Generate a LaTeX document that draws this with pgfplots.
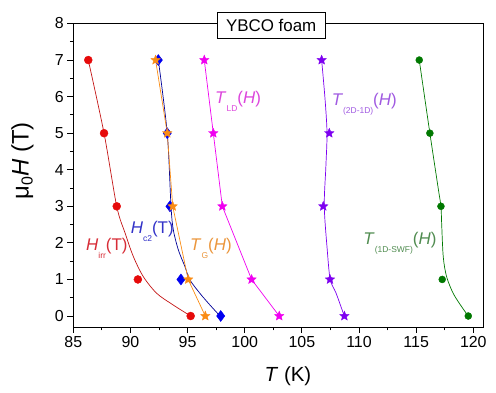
\documentclass[border=0pt]{standalone}
\usepackage{pgfplots}
\pgfplotsset{compat=1.18}
\usepackage{fontspec}
\setmainfont{Liberation Sans}
\definecolor{cred}{RGB}{230,10,10}
\definecolor{credl}{RGB}{195,20,20}
\definecolor{credt}{RGB}{215,45,55}
\definecolor{cblue}{RGB}{0,0,240}
\definecolor{cbluel}{RGB}{0,0,150}
\definecolor{cbluet}{RGB}{50,50,200}
\definecolor{corange}{RGB}{250,140,20}
\definecolor{coranget}{RGB}{235,150,60}
\definecolor{cmag}{RGB}{240,0,240}
\definecolor{cmagt}{RGB}{220,70,220}
\definecolor{cpurp}{RGB}{125,0,240}
\definecolor{cpurpt}{RGB}{160,90,225}
\definecolor{cgreen}{RGB}{0,120,0}
\definecolor{cgreent}{RGB}{80,140,80}
\pgfdeclareplotmark{fstar}{%
  \pgfpathmoveto{\pgfpointpolar{90}{\pgfplotmarksize}}%
  \pgfpathlineto{\pgfpointpolar{126}{0.45\pgfplotmarksize}}%
  \pgfpathlineto{\pgfpointpolar{162}{\pgfplotmarksize}}%
  \pgfpathlineto{\pgfpointpolar{198}{0.45\pgfplotmarksize}}%
  \pgfpathlineto{\pgfpointpolar{234}{\pgfplotmarksize}}%
  \pgfpathlineto{\pgfpointpolar{270}{0.45\pgfplotmarksize}}%
  \pgfpathlineto{\pgfpointpolar{306}{\pgfplotmarksize}}%
  \pgfpathlineto{\pgfpointpolar{342}{0.45\pgfplotmarksize}}%
  \pgfpathlineto{\pgfpointpolar{18}{\pgfplotmarksize}}%
  \pgfpathlineto{\pgfpointpolar{54}{0.45\pgfplotmarksize}}%
  \pgfpathclose
  \pgfusepathqfillstroke}
\newcommand{\sub}[1]{\raisebox{-8bp}{\fontsize{8.5}{9}\selectfont #1}}
\begin{document}
\begin{tikzpicture}
\begin{axis}[
  width=409.7bp, height=303.5bp, scale only axis,
  xmin=85, xmax=120.85, ymin=-0.3, ymax=8,
  xtick={85,90,...,120}, ytick={0,1,...,8},
  minor x tick num=1, minor y tick num=1,
  tick pos=left, tick align=outside,
  major tick length=6bp, minor tick length=3.5bp,
  every tick/.style={black, line width=0.8bp},
  axis line style={line width=0.8bp},
  ticklabel style={font=\fontsize{16}{19}\selectfont},
  /pgf/number format/assume math mode=true,
  xlabel={\textit{T} (K)},
  xlabel style={font=\fontsize{20.5}{24}\selectfont, at={(axis description cs:0.524,-0.180)}, anchor=base},
  ylabel={μ\raisebox{-4bp}{\fontsize{16}{18}\selectfont 0}\textit{H} (T)},
  ylabel style={font=\fontsize{24}{28}\selectfont, at={(axis description cs:-0.124,0.547)}, anchor=center},
  clip=false,
]
% H_irr fit line
\addplot[credl, line width=0.7bp, smooth, tension=0.5] coordinates {(86.31,7) (87.69,5) (88.8,3) (89.53,2.27) (90.25,1.63) (91.12,1.08) (92.3,0.62) (93.75,0.30) (95.27,0)};
\addplot[only marks, mark=*, mark size=4bp, cred, mark options={draw=cred, fill=cred}] coordinates {(86.31,7) (87.69,5) (88.8,3) (90.65,1) (95.27,0)};
% Hc2
\addplot[cbluel, line width=0.7bp, smooth, tension=0.5] coordinates {(92.44,7) (93.22,5) (93.55,3) (93.75,2.36) (94.19,1.81) (94.77,1.35) (95.2,0.99) (96.08,0.62) (96.96,0.30) (97.84,0)};
\addplot[only marks, mark=diamond*, mark size=5.5bp, cblue, mark options={draw=cblue, fill=cblue}] coordinates {(92.44,7) (93.22,5) (93.46,3) (94.42,1) (97.9,0)};
% T_G
\addplot[corange, line width=0.7bp, mark=fstar, mark size=5bp, mark options={draw=corange, fill=corange, line width=0.3bp}] coordinates {(92.2,7) (93.22,5) (93.7,3) (95.05,1) (96.55,0)};
% T_LD
\addplot[cmag, line width=0.7bp, mark=fstar, mark size=5bp, mark options={draw=cmag, fill=cmag, line width=0.3bp}] coordinates {(96.46,7) (97.25,5) (98.04,3) (100.6,1) (103.02,0)};
% T_2D-1D
\addplot[cpurp, line width=0.7bp, smooth, tension=0.5] coordinates {(106.73,7) (107.03,5.92) (107.2,5) (107.1,4.09) (106.96,3) (107.22,1.81) (107.48,1) (108.0,0.62) (108.71,0)};
\addplot[only marks, mark=fstar, mark size=5bp, cpurp, mark options={draw=cpurp, fill=cpurp, line width=0.3bp}] coordinates {(106.73,7) (107.4,5) (106.87,3) (107.46,1) (108.72,0)};
% T_1D-SWF
\addplot[cgreen, line width=0.7bp, smooth, tension=0.5] coordinates {(115.27,7) (116.2,5) (116.95,3.45) (117.17,3) (117.23,2.54) (117.37,1.62) (117.66,1.08) (118.24,0.62) (118.99,0.25) (119.56,0)};
\addplot[only marks, mark=*, mark size=3.5bp, cgreen, mark options={draw=cgreen, fill=cgreen}] coordinates {(115.27,7) (116.2,5) (117.17,3) (117.28,1) (119.56,0)};
% labels
\node[anchor=base west, inner sep=0, text=credt, font=\fontsize{17}{20}\selectfont] at (axis cs:86.11,1.78) {\textit{H}\sub{irr}(T)};
\node[anchor=base west, inner sep=0, text=cbluet, font=\fontsize{17}{20}\selectfont] at (axis cs:90.02,2.27) {\textit{H}\sub{c2}(T)};
\node[anchor=base west, inner sep=0, text=coranget, font=\fontsize{17}{20}\selectfont] at (axis cs:95.21,1.78) {\textit{T}\sub{G}(\textit{H})};
\node[anchor=base west, inner sep=0, text=cmagt, font=\fontsize{17}{20}\selectfont] at (axis cs:97.4,5.81) {\textit{T}\sub{LD}(\textit{H})};
\node[anchor=base west, inner sep=0, text=cpurpt, font=\fontsize{17}{20}\selectfont] at (axis cs:107.6,5.75) {\textit{T}\sub{(2D-1D)}(\textit{H})};
\node[anchor=base west, inner sep=0, text=cgreent, font=\fontsize{17}{20}\selectfont] at (axis cs:110.37,1.96) {\textit{T}\sub{(1D-SWF)}(\textit{H})};
\node[draw=black, line width=0.8bp, fill=white, inner xsep=9bp, minimum height=26bp, font=\fontsize{17}{20}\selectfont] at (rel axis cs:0.483,0.995) {YBCO foam};
\coordinate (bl) at (rel axis cs:-0.1789,-0.2175);
\coordinate (tr) at (rel axis cs:1.0317,1.0774);
\end{axis}
\pgfresetboundingbox
\path[use as bounding box] (bl) rectangle (tr);
\end{tikzpicture}
\end{document}
